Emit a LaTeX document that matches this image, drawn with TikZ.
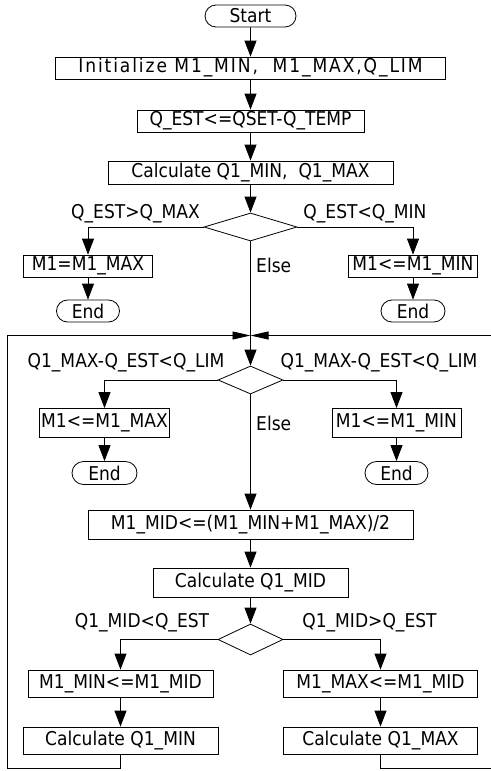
\documentclass[tikz,border=0pt]{standalone}
\usepackage{fontspec}
\setmainfont{DejaVu Sans}[FakeStretch=0.9]
\newfontfamily\spacedfont{DejaVu Sans}[FakeStretch=0.9,LetterSpace=10]
\usetikzlibrary{arrows.meta,shapes.geometric,shapes.misc}
\begin{document}
\begin{tikzpicture}[x=1pt,y=-1pt,
  every node/.style={font=\fontsize{19pt}{22pt}\selectfont, inner sep=0pt},
  box/.style={draw, rectangle, line width=0.8pt},
  term/.style={draw, rounded rectangle, line width=0.8pt},
  dec/.style={draw, diamond, line width=0.8pt},
  ln/.style={line width=0.8pt},
  arr/.style={ln, -{Triangle[length=16pt,width=12pt]}},
  harr/.style={ln, -{Triangle[length=18pt,width=8pt]}},
  lbl/.style={anchor=base}]
\useasboundingbox (0,0) rectangle (490,771);
% nodes
\node[term, minimum width=91pt, minimum height=22pt] (start) at (250.5,16) {Start};
\node[box, minimum width=390pt, minimum height=22pt] (init) at (250.5,68) {\spacedfont Initialize M1\_MIN,\ \ M1\_MAX,Q\_LIM};
\node[box, minimum width=227pt, minimum height=22pt] (qest) at (250.5,121) {Q\_EST<=QSET-Q\_TEMP};
\node[box, minimum width=285pt, minimum height=23pt] (calc1) at (250.5,172.5) {Calculate Q1\_MIN,\ \ Q1\_MAX};
\node[dec, minimum width=93pt, minimum height=28pt] (d1) at (250.5,227) {};
\node[box, minimum width=129pt, minimum height=22pt] (b1) at (88,266) {M1=M1\_MAX};
\node[term, minimum width=63pt, minimum height=22pt] (e1) at (88,311) {End};
\node[box, minimum width=129pt, minimum height=22pt] (b2) at (413,266) {M1<=M1\_MIN};
\node[term, minimum width=64pt, minimum height=22pt] (e2) at (413,311) {End};
\coordinate (m) at (250.5,335.5);
\node[dec, minimum width=65pt, minimum height=28pt] (d2) at (250.5,380) {};
\node[box, minimum width=130pt, minimum height=29pt] (b3) at (104.5,423) {M1<=M1\_MAX};
\node[term, minimum width=65pt, minimum height=23pt] (e3) at (104.5,473) {End};
\node[box, minimum width=129pt, minimum height=29pt] (b4) at (396.5,423) {M1<=M1\_MIN};
\node[term, minimum width=63pt, minimum height=23pt] (e4) at (396.5,473) {End};
\node[box, minimum width=325pt, minimum height=29pt] (mid) at (250.5,524.5) {M1\_MID<=(M1\_MIN+M1\_MAX)/2};
\node[box, minimum width=195pt, minimum height=29pt] (calc2) at (250.5,582.5) {Calculate Q1\_MID};
\node[dec, minimum width=65pt, minimum height=31pt] (d3) at (250.5,639.5) {};
\node[box, minimum width=185pt, minimum height=27pt] (b5) at (120.5,683.5) {M1\_MIN<=M1\_MID};
\node[box, minimum width=195pt, minimum height=27pt] (c5) at (120.5,740.5) {Calculate Q1\_MIN};
\node[box, minimum width=194pt, minimum height=27pt] (b6) at (380.5,683.5) {M1\_MAX<=M1\_MID};
\node[box, minimum width=194pt, minimum height=27pt] (c6) at (380.5,740.5) {Calculate Q1\_MAX};
% labels
\node[lbl] (l1) at (135.5,218) {Q\_EST>Q\_MAX};
\node[lbl] (l2) at (365,218) {Q\_EST<Q\_MIN};
\node[anchor=west] (else1) at (256,265) {Else};
\node[lbl] (l3) at (126,367) {Q1\_MAX-Q\_EST<Q\_LIM};
\node[lbl] (l4) at (379,367) {Q1\_MAX-Q\_EST<Q\_LIM};
\node[anchor=west] (else2) at (256,423) {Else};
\node[lbl] (l5) at (142,627) {Q1\_MID<Q\_EST};
\node[lbl] (l6) at (369.5,627) {Q1\_MID>Q\_EST};
% connectors
\draw[arr] (start) -- (init);
\draw[arr] (init) -- (qest);
\draw[arr] (qest) -- (calc1);
\draw[arr] (calc1) -- (d1);
\draw[arr] (d1.west) -| (b1.north);
\draw[arr] (b1) -- (e1);
\draw[arr] (d1.east) -| (b2.north);
\draw[arr] (b2) -- (e2);
\draw[arr] (d1.south) -- (d2.north);
\draw[arr] (d2.west) -| (b3.north);
\draw[arr] (b3) -- (e3);
\draw[arr] (d2.east) -| (b4.north);
\draw[arr] (b4) -- (e4);
\draw[arr] (d2.south) -- (mid.north);
\draw[arr] (mid) -- (calc2);
\draw[arr] (calc2) -- (d3);
\draw[arr] (d3.west) -| (b5.north);
\draw[arr] (b5) -- (c5);
\draw[arr] (d3.east) -| (b6.north);
\draw[arr] (b6) -- (c6);
% loop back
\coordinate (lb) at (7,768);
\coordinate (lt) at (7,335.5);
\coordinate (rb) at (491,768);
\coordinate (rt) at (491,335.5);
\draw[harr] (c5.south) |- (lb) -- (lt) -- (m);
\draw[ln] (c6.south) |- (rb);
\draw[harr] (rt) -- (m);
\end{tikzpicture}
\end{document}
